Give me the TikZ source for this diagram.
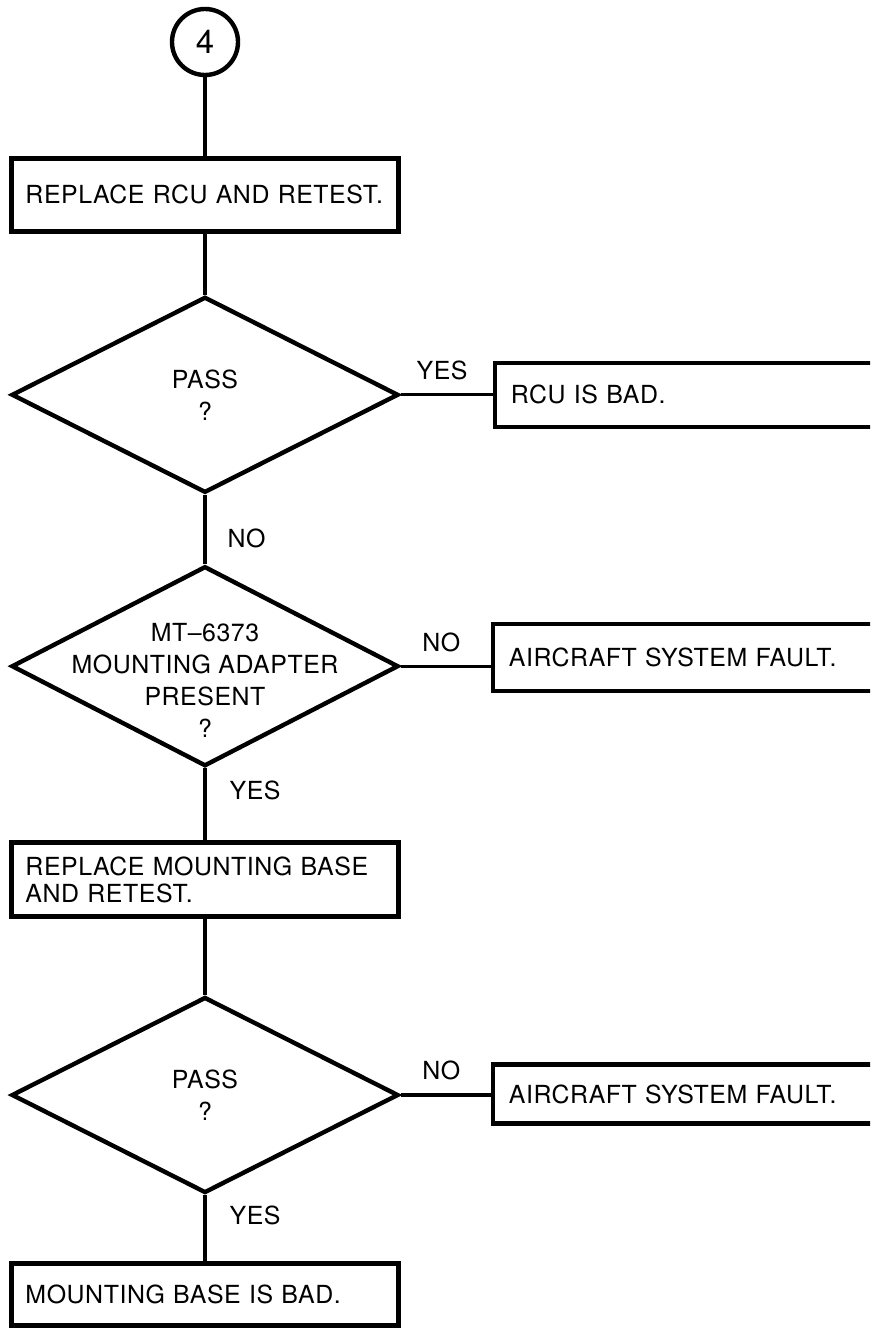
\documentclass[tikz,border=0pt]{standalone}
\usepackage{fontspec}
\setmainfont{TeX Gyre Heros}[LetterSpace=2.2]
\usetikzlibrary{shapes.geometric, positioning}

\tikzset{
  stepbox/.style = {draw, line width=4.4bp, rectangle, minimum width=387bp,
    text width=359bp, inner xsep=14bp, inner ysep=0pt, align=left},
  endbox/.style = {draw, line width=4.4bp, rectangle, minimum width=440bp,
    text width=408bp, inner xsep=16bp, inner ysep=0pt, align=left},
  decision/.style = {draw, line width=4.4bp, diamond, minimum width=387bp,
    minimum height=196bp, inner sep=0pt},
  qtext/.style = {align=center, font=\fontsize{25}{32}\selectfont},
  flow/.style = {line width=3.2bp},
  answer/.style = {inner sep=0pt}
}

\begin{document}
\begin{tikzpicture}
  [x=1bp, y=-1bp, font=\fontsize{25}{27}\selectfont]
  \useasboundingbox (0,0) rectangle (870,1328);
  \clip (0,0) rectangle (870,1328);

  % main column
  \node (c4) [draw, circle, line width=4.4bp, minimum size=66bp, inner sep=0pt,
    font=\fontsize{33}{33}\selectfont] at (205,42) {4};
  \node (rep_rcu) [stepbox, minimum height=73bp, below=79bp of c4] {REPLACE RCU AND RETEST.};
  \node (pass_a) [decision, below=61bp of rep_rcu,
    label={[qtext]center:{PASS\\?}}] {};
  \node (adapter) [decision, minimum height=200bp, below=69bp of pass_a,
    label={[qtext, yshift=-14bp]center:{MT--6373\\MOUNTING ADAPTER\\PRESENT\\?}}] {};
  \node (rep_base) [stepbox, minimum height=74bp, below=72bp of adapter] {REPLACE MOUNTING BASE\\AND RETEST.};
  \node (pass_b) [decision, below=76bp of rep_base,
    label={[qtext]center:{PASS\\?}}] {};
  \node (base_bad) [stepbox, minimum height=62bp, below=66bp of pass_b] {MOUNTING BASE IS BAD.};

  % outcomes on the right
  \node (rcu_bad) [endbox, minimum height=64bp, right=92bp of pass_a] {RCU IS BAD.};
  \node (fault_a) [endbox, minimum height=67bp, right=90bp of adapter, yshift=9bp] {AIRCRAFT SYSTEM FAULT.};
  \node (fault_b) [endbox, minimum height=59bp, right=90bp of pass_b, yshift=1bp] {AIRCRAFT SYSTEM FAULT.};

  % connectors
  \draw [flow] (c4) -- (rep_rcu);
  \draw [flow] (rep_rcu) -- (pass_a);
  \draw [flow] (pass_a.east) -- node (yes_a) [answer, above=13bp, pos=0.45] {YES} (pass_a.east -| rcu_bad.west);
  \draw [flow] (pass_a) -- node (no_a) [answer, right=21bp, pos=0.63] {NO} (adapter);
  \draw [flow] (adapter.east) -- node (no_b) [answer, above=13bp, pos=0.45] {NO} (adapter.east -| fault_a.west);
  \draw [flow] (adapter) -- node (yes_b) [answer, right=23bp, pos=0.3] {YES} (rep_base);
  \draw [flow] (rep_base) -- (pass_b);
  \draw [flow] (pass_b.east) -- node (no_c) [answer, above=13bp, pos=0.45] {NO} (pass_b.east -| fault_b.west);
  \draw [flow] (pass_b) -- node (yes_c) [answer, right=23bp, pos=0.3] {YES} (base_bad);
\end{tikzpicture}
\end{document}
